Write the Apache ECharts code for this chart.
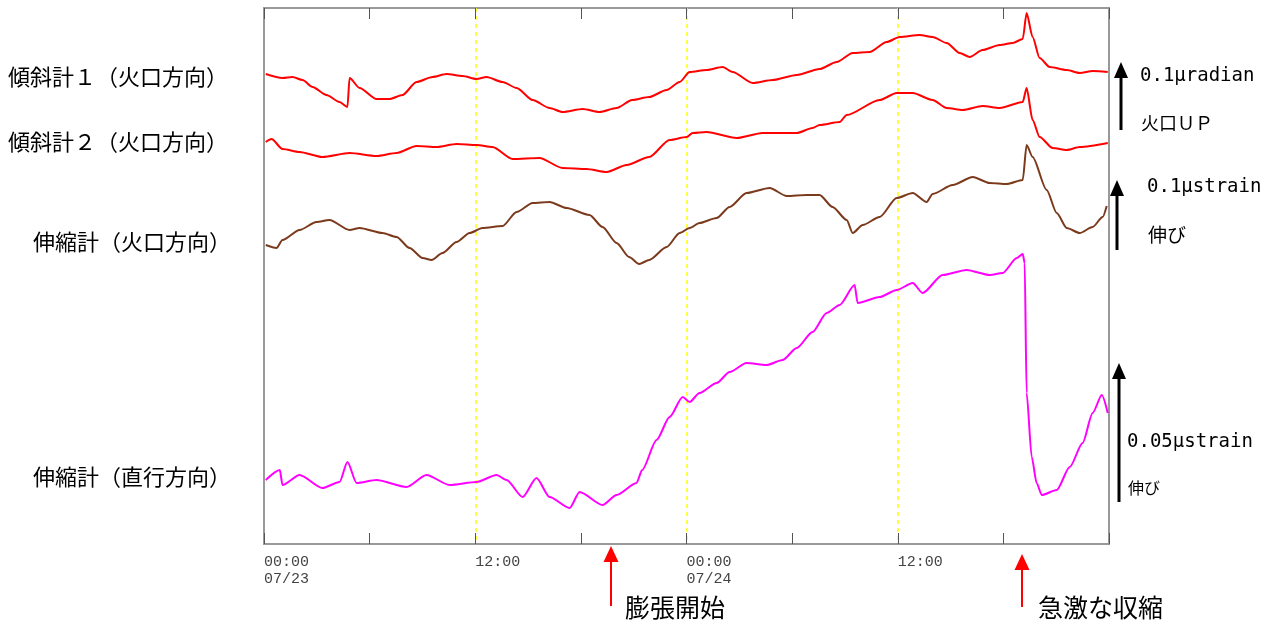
<!DOCTYPE html>
<html><head><meta charset="utf-8">
<script src="https://cdn.jsdelivr.net/npm/echarts@6/dist/echarts.min.js"></script>
<style>html,body{margin:0;padding:0;background:#fff}#c{width:1274px;height:623px}</style>
</head><body><div id="c"></div>
<script>
// time in hours from 07/23 00:00, trace level (recorder units, offset per trace)
const tilt1 = [[0.1,470],[1.05,466],[1.62,467],[2.19,464],[2.76,457],[3.55,449],[4.29,442],[4.74,437],[4.86,466],[5.43,456],[6.39,445],[7.13,445],[7.87,449],[8.66,462],[9.57,467],[10.37,470],[11.28,468],[12.07,465],[12.64,467],[13.55,462],[14.35,456],[15.26,444],[16.22,436],[16.96,432],[18.1,435],[19.06,432],[20.03,436],[20.91,444],[21.88,447],[22.87,454],[23.61,462],[24.18,472],[25.14,474],[26.05,477],[26.62,472],[27.76,461],[28.89,464],[30.26,469],[31.56,475],[32.53,482],[33.44,491],[34.4,492],[35.37,502],[36.11,507],[37.24,509],[37.98,507],[38.78,501],[39.52,491],[40.09,487],[40.82,494],[41.79,499],[42.53,501],[43.1,505],[43.32,531],[43.66,507],[44.06,486],[44.63,477],[45.6,474],[46.34,471],[47.07,473],[47.93,472]];
const tilt2 = [[0.1,402],[0.43,405],[1.05,395],[2.02,392],[3.32,387],[4.86,391],[6.39,388],[7.53,391],[8.66,398],[9.8,397],[10.94,400],[12.07,399],[12.98,397],[14.12,385],[15.65,386],[16.96,376],[18.32,375],[19.46,372],[20.6,379],[21.88,387],[23.04,404],[24.01,407],[24.35,411],[25.14,412],[26.85,406],[28.32,411],[30.26,411],[31.16,416],[31.56,419],[32.7,422],[33.1,429],[34.97,444],[35.94,451],[36.85,451],[37.98,444],[38.78,436],[39.69,434],[40.82,438],[41.79,436],[43.1,442],[43.32,456],[43.66,424],[44.06,407],[44.8,396],[45.6,394],[46.34,397],[47.93,401]];
const strainCrater = [[0.1,299],[0.71,296],[1.05,304],[2.02,314],[2.98,322],[3.72,324],[4.86,314],[5.43,316],[6.73,311],[7.53,307],[8.27,296],[9.01,286],[9.52,284],[10.14,291],[10.94,302],[11.68,311],[12.41,316],[13.55,318],[14.35,332],[15.26,341],[16.22,342],[17.19,336],[18.49,329],[19.23,317],[20.03,301],[20.74,287],[21.31,280],[21.88,284],[22.87,297],[23.61,311],[24.18,316],[24.74,321],[25.71,326],[26.45,337],[27.41,351],[28.72,356],[29.69,348],[30.82,349],[31.56,349],[32.3,337],[33.1,324],[33.44,311],[34.01,319],[34.97,327],[35.94,346],[36.85,351],[37.64,342],[37.98,350],[39.12,359],[40.26,367],[41.22,361],[42.19,360],[43.1,364],[43.32,399],[43.66,387],[44.46,354],[45.03,331],[45.6,316],[46.34,311],[47.07,317],[47.64,327],[47.87,338]];
const strainOrtho = [[0.1,64],[0.9,74],[1.05,59],[2.02,69],[3.32,56],[4.29,62],[4.74,82],[5.26,61],[6.39,64],[8.1,57],[9.23,69],[10.54,59],[12.07,62],[13.21,69],[13.78,64],[14.69,47],[15.48,66],[16.22,47],[17.36,36],[17.93,52],[19.23,39],[20.03,49],[21.16,61],[21.48,74],[22.3,104],[23.04,127],[23.78,147],[24.18,142],[24.74,151],[25.71,161],[26.45,172],[27.41,181],[28.55,179],[29.46,184],[30.26,196],[31.16,212],[31.96,231],[32.7,239],[33.55,259],[33.72,241],[34.97,247],[35.94,254],[36.85,261],[37.41,251],[38.55,269],[39.91,274],[41.22,269],[41.96,271],[42.76,286],[43.1,290],[43.21,281],[43.32,151],[43.61,87],[43.89,61],[44.18,49],[45.03,54],[45.77,77],[46.5,101],[47.07,131],[47.59,149],[47.93,131]];
const tickLabels = {0:'00:00\n07/23', 12:'12:00', 24:'00:00\n07/24', 36:'12:00'};
const traceNames = ['傾斜計１（火口方向）','傾斜計２（火口方向）','伸縮計（火口方向）','伸縮計（直行方向）'];
const eventNames = ['膨張開始','急激な収縮'];
const scaleTexts = ['0.1μradian','火口ＵＰ','0.1μstrain','伸び','0.05μstrain','伸び'];

const chart = echarts.init(document.getElementById('c'), null, {renderer:'canvas'});
const cjk = '"Noto Sans CJK JP", sans-serif';
const mono = '"DejaVu Sans Mono", monospace';
function txt(x, y, s, size, fam) {
  return {type:'text', x:x, y:y, silent:true, style:{text:s, font: size+'px '+(fam||cjk), fill:'#000', verticalAlign:'middle', textAlign:'left'}};
}
function arrow(x, yTip, yEnd, color, w, hw, hh) {
  return [
    {type:'line', silent:true, shape:{x1:x, y1:yTip+hh-1, x2:x, y2:yEnd}, style:{stroke:color, lineWidth:w}},
    {type:'polygon', silent:true, shape:{points:[[x,yTip],[x-hw/2,yTip+hh],[x+hw/2,yTip+hh]]}, style:{fill:color}}
  ];
}
const graphics = [
  txt(8, 77, traceNames[0], 22),
  txt(8, 142, traceNames[1], 22),
  txt(33, 242, traceNames[2], 22),
  txt(33, 477, traceNames[3], 22),
  txt(625, 607, eventNames[0], 25),
  txt(1038, 607, eventNames[1], 25),
  txt(1140, 76, scaleTexts[0], 19, mono),
  txt(1141, 123, scaleTexts[1], 18),
  txt(1147, 187, scaleTexts[2], 19, mono),
  txt(1148, 235, scaleTexts[3], 19),
  txt(1127, 442, scaleTexts[4], 19, mono),
  txt(1128, 488, scaleTexts[5], 16)
].concat(
  arrow(1121, 62, 130, '#000', 3, 14, 16),
  arrow(1117, 180, 250, '#000', 3, 14, 16),
  arrow(1119, 363, 502, '#000', 3, 14, 16),
  arrow(611, 546, 606, '#ff0000', 2, 15, 16),
  arrow(1022, 554, 607, '#ff0000', 2, 15, 16)
);

const lineBase = {type:'line', showSymbol:false, symbol:'none', smooth:0.25, smoothMonotone:'x', z:3};
const option = {
  animation:false,
  backgroundColor:'#fff',
  grid:{left:264, right:165, top:8, bottom:79, show:true, borderColor:'#999', borderWidth:2, backgroundColor:'transparent'},
  xAxis:[
    {type:'value', min:0, max:48, interval:6, position:'bottom',
     axisLine:{show:false},
     axisTick:{show:true, inside:true, length:11, lineStyle:{color:'#555', width:1}},
     axisLabel:{show:true, margin:10, align:'left', verticalAlign:'top', fontFamily:'"Liberation Mono", monospace', fontSize:15, lineHeight:17, color:'#444',
       formatter:function(v){return tickLabels[v] !== undefined ? tickLabels[v] : '';}},
     splitLine:{show:false}},
    {type:'value', min:0, max:48, interval:6, position:'top',
     axisLine:{show:false},
     axisTick:{show:true, inside:true, length:11, lineStyle:{color:'#555', width:1}},
     axisLabel:{show:false}, splitLine:{show:false}},
    {type:'value', min:0, max:48, interval:12, position:'bottom', show:true,
     axisLine:{show:false}, axisTick:{show:false}, axisLabel:{show:false},
     splitLine:{show:true, showMinLine:false, showMaxLine:false, lineStyle:{color:'#ffff00', width:1.5, type:[4,4]}}}
  ],
  yAxis:{type:'value', min:0, max:536, show:false, splitLine:{show:false}},
  graphic: graphics,
  series:[
    Object.assign({name:traceNames[0], data:tilt1, lineStyle:{color:'#ff0000', width:2}}, lineBase),
    Object.assign({name:traceNames[1], data:tilt2, lineStyle:{color:'#ff0000', width:2}}, lineBase),
    Object.assign({name:traceNames[2], data:strainCrater, lineStyle:{color:'#7b3a1c', width:2}}, lineBase),
    Object.assign({name:traceNames[3], data:strainOrtho, lineStyle:{color:'#ff00ff', width:2}}, lineBase)
  ]
};
chart.setOption(option);
</script></body></html>
